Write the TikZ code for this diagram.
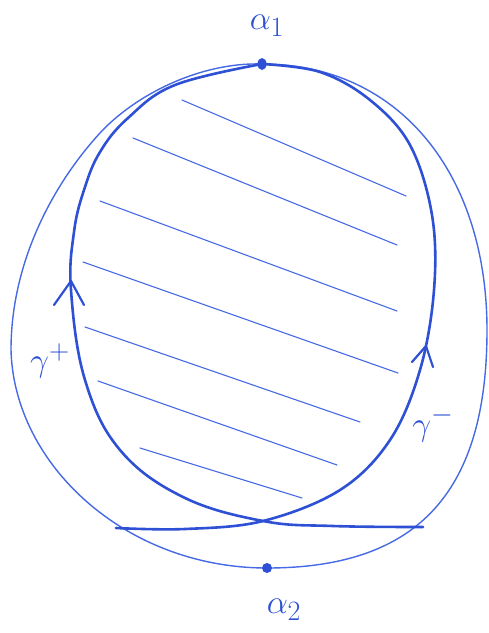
\documentclass[tikz,border=0pt]{standalone}
\usetikzlibrary{calc,shapes.geometric}
\definecolor{penblue}{RGB}{45,80,212}
\definecolor{thinblue}{RGB}{70,105,228}
\tikzset{
  gammaline/.style={draw=penblue, line width=2.6pt, line cap=round, line join=round},
  outerline/.style={draw=thinblue, line width=1.4pt, line cap=round},
  hatchline/.style={draw=thinblue, line width=1.1pt, line cap=round},
  chevron/.style={draw=penblue, line width=2.2pt, line cap=round, line join=round},
  pointdot/.style={circle, fill=penblue, inner sep=0pt, minimum size=10pt},
  lab/.style={text=penblue, font=\Huge, scale=1.35, inner sep=0pt}
}
\begin{document}
\begin{tikzpicture}[x=1pt,y=-1pt]
\useasboundingbox (0,0) rectangle (489,633);

% named points
\coordinate (top) at (262,64);
\coordinate (oUL) at (100,133);
\coordinate (oL) at (11,350);
\coordinate (oB) at (267,568);
\coordinate (oR) at (487,330);
\coordinate (cross) at (263,521);
\coordinate (endL) at (116,528);
\coordinate (endR) at (423,527);

% outer thin curve
\draw[outerline] (top) .. controls (200,62) and (135,95) .. (oUL)
  .. controls (55,182) and (11,260) .. (oL)
  .. controls (14,465) and (126,568) .. (oB)
  .. controls (420,568) and (487,490) .. (oR)
  .. controls (487,175) and (400,64) .. (top);

% hatching
\draw[hatchline] (182,100) -- (406,196);
\draw[hatchline] (133,138) -- (397,245);
\draw[hatchline] (100,201) -- (397,311);
\draw[hatchline] (83,262) -- (398,373);
\draw[hatchline] (85,327) -- (360,422);
\draw[hatchline] (98,381) -- (337,465);
\draw[hatchline] (140,448) -- (302,498);

% gamma+ branch (left)
\draw[gammaline] plot[smooth, tension=0.65] coordinates {
 (endR) (333,526) (cross) (183,497) (120,450) (85,380) (71,290)
 (74,232) (84,190) (100,152) (128,118) (175,85) (top)};
% gamma- branch (right)
\draw[gammaline] plot[smooth, tension=0.6] coordinates {
 (endL) (185,529) (cross) (340,490) (390,440) (420,370) (434,290)
 (432,215) (410,145) (370,100) (320,72) (top)};

% arrowheads
\coordinate (tipL) at (71,281);
\coordinate (tipR) at (426,346);
\draw[chevron] (54,305) -- (tipL) -- (84,305);
\draw[chevron] (412,362) -- (tipR) -- (433,367);

% points
\node[ellipse, fill=penblue, inner sep=0pt, minimum width=9pt, minimum height=12pt] (a1) at (top) {};
\node[pointdot] (a2) at (oB) {};

% labels
\node[lab] (la1) at (267,26) {$\alpha_1$};
\node[lab] (la2) at (284,610) {$\alpha_2$};
\node[lab] (gp) at (50,361) {$\gamma^+$};
\node[lab] (gm) at (433,424) {$\gamma^-$};
\end{tikzpicture}
\end{document}
